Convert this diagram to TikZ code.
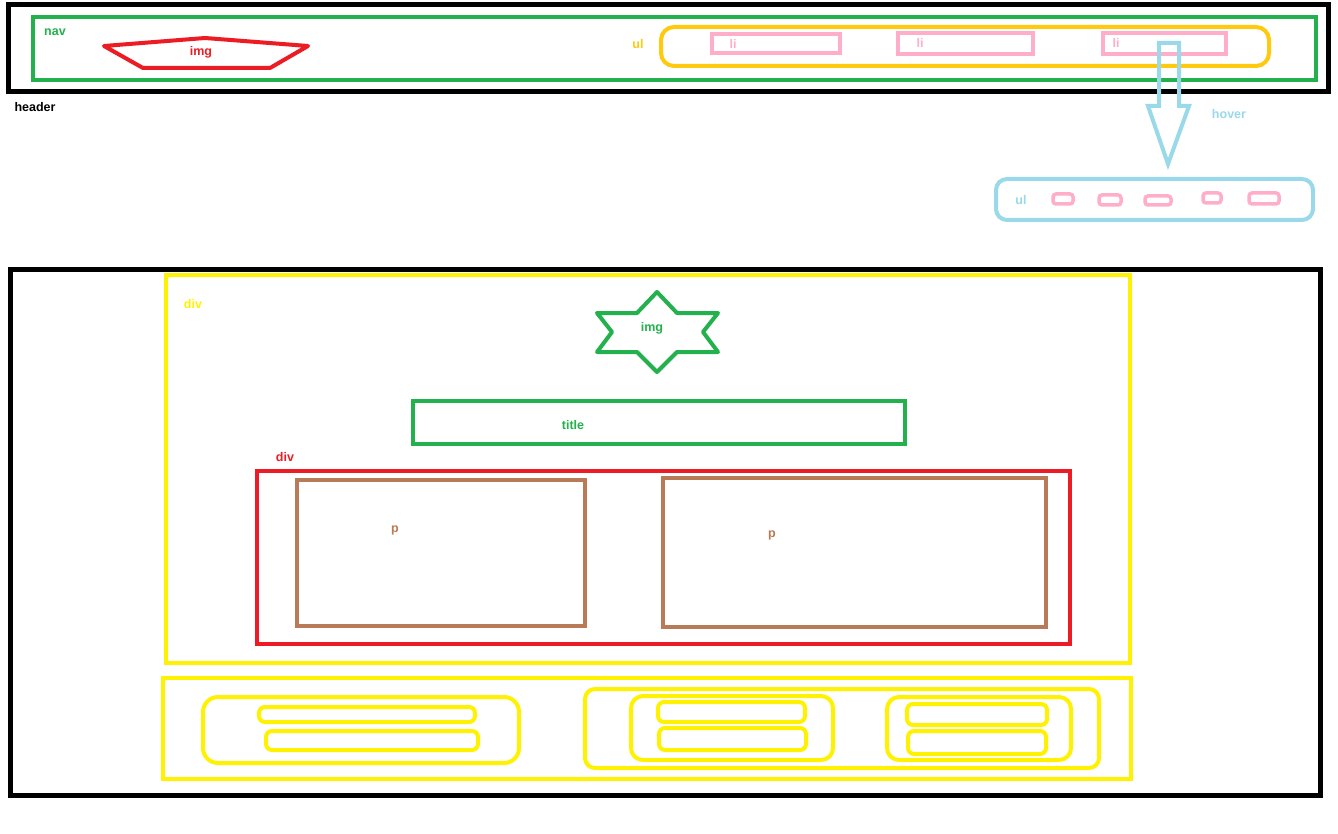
\documentclass[tikz,border=0pt]{standalone}
\usepackage{fontspec}
\setmainfont{Liberation Sans}
\usetikzlibrary{fit}
\definecolor{cgreen}{HTML}{22B14C}
\definecolor{cred}{HTML}{ED1C24}
\definecolor{corange}{HTML}{FFC90E}
\definecolor{cpink}{HTML}{FFAEC9}
\definecolor{cblue}{HTML}{99D9EA}
\definecolor{cyellow}{HTML}{FFF200}
\definecolor{cbrown}{HTML}{B97A57}
\begin{document}
\begin{tikzpicture}[x=1pt,y=-1pt,
  box/.style={draw, inner sep=0pt, outer sep=0pt, line width=4pt},
  lbl/.style={font=\fontsize{12.5}{12.5}\selectfont\bfseries, inner sep=0pt},
  rbox/.style={box, rounded corners=#1},
]
\useasboundingbox[fill=white] (0,0) rectangle (1338,834);
% ---------- header ----------
\node[box, line width=5pt, fit={(8,5) (1328,92)}] (header) {};
\node[box, draw=cgreen, fit={(33,17) (1316,80)}] (nav) {};
\node[lbl, text=cgreen] (navl) at (55,32) {nav};
\node[lbl] (headerl) at (35,107) {header};
\draw[cred, line width=4pt, line join=round] (104,46) -- (205,38) -- (308,46) -- (270,68) -- (143,68) -- cycle;
\node[lbl, text=cred] (img1) at (201,52) {img};
\node[rbox=13pt, draw=corange, fit={(661,27) (1269,66)}] (ul1) {};
\node[lbl, text=corange] (ul1l) at (638,44) {ul};
\node[box, draw=cpink, fit={(712,34) (840,53)}] (li1) {};
\node[box, draw=cpink, fit={(898,33) (1033,54)}] (li2) {};
\node[box, draw=cpink, fit={(1103,33) (1226,54)}] (li3) {};
\node[lbl, text=cpink] at (733,44) {li};
\node[lbl, text=cpink] at (920,43) {li};
\node[lbl, text=cpink] at (1116,43) {li};
% hover arrow
\draw[cblue, line width=4pt, line join=miter]
  (1159,43) -- (1179,43) -- (1179,106) -- (1189,106) -- (1168,164) -- (1148,106) -- (1159,106) -- cycle;
\node[lbl, text=cblue] (hover) at (1229,114) {hover};
% dropdown ul
\node[rbox=11pt, draw=cblue, fit={(996,179) (1313,220)}] (ul2) {};
\node[lbl, text=cblue] (ul2l) at (1021,200) {ul};
\node[rbox=3pt, draw=cpink, line width=3.5pt, fit={(1053,194) (1073,204)}] (s1) {};
\node[rbox=3pt, draw=cpink, line width=3.5pt, fit={(1099,195) (1121,205)}] (s2) {};
\node[rbox=3pt, draw=cpink, line width=3.5pt, fit={(1145,196) (1171,205)}] (s3) {};
\node[rbox=3pt, draw=cpink, line width=3.5pt, fit={(1203,193) (1221,203)}] (s4) {};
\node[rbox=3pt, draw=cpink, line width=3.5pt, fit={(1249,193) (1279,204)}] (s5) {};
% ---------- main ----------
\node[box, line width=5pt, fit={(10,270) (1320,795)}] (main) {};
\node[box, draw=cyellow, fit={(166,275) (1130,663)}] (div1) {};
\node[lbl, text=cyellow] (div1l) at (193,304) {div};
\draw[cgreen, line width=4pt, line join=round]
  (657,292) -- (677,313) -- (718,313) -- (703,332) -- (718,352) -- (677,352) -- (657,372)
  -- (637,352) -- (597,352) -- (612,332) -- (597,313) -- (637,313) -- cycle;
\node[lbl, text=cgreen] (img2) at (652,328) {img};
\node[box, draw=cgreen, fit={(413,401) (905,444)}] (title) {};
\node[lbl, text=cgreen] (titlel) at (573,425) {title};
\node[lbl, text=cred] (div2l) at (285,457) {div};
\node[box, draw=cred, fit={(257,471) (1070,644)}] (div2) {};
\node[box, draw=cbrown, fit={(297,480) (585,626)}] (p1) {};
\node[box, draw=cbrown, fit={(663,478) (1046,627)}] (p2) {};
\node[lbl, text=cbrown] at (395,530) {p};
\node[lbl, text=cbrown] at (772,535) {p};
% ---------- footer ----------
\node[box, draw=cyellow, fit={(163,678) (1131,779)}] (footer) {};
\begin{scope}[every node/.append style={line width=3.5pt, draw=cyellow}]
\node[rbox=15pt, fit={(203,697) (519,763)}] (g1) {};
\node[rbox=6pt, fit={(259,707) (475,722)}] (g1a) {};
\node[rbox=6pt, fit={(266,731) (478,750)}] (g1b) {};
\node[rbox=10pt, fit={(585,689) (1099,768)}] (g2) {};
\node[rbox=12pt, fit={(631,696) (833,760)}] (g2i) {};
\node[rbox=6pt, fit={(658,702) (805,722)}] (g2a) {};
\node[rbox=6pt, fit={(659,728) (806,750)}] (g2b) {};
\node[rbox=12pt, fit={(887,697) (1071,760)}] (g3) {};
\node[rbox=6pt, fit={(907,704) (1047,725)}] (g3a) {};
\node[rbox=6pt, fit={(908,731) (1046,754)}] (g3b) {};
\end{scope}
\end{tikzpicture}
\end{document}
